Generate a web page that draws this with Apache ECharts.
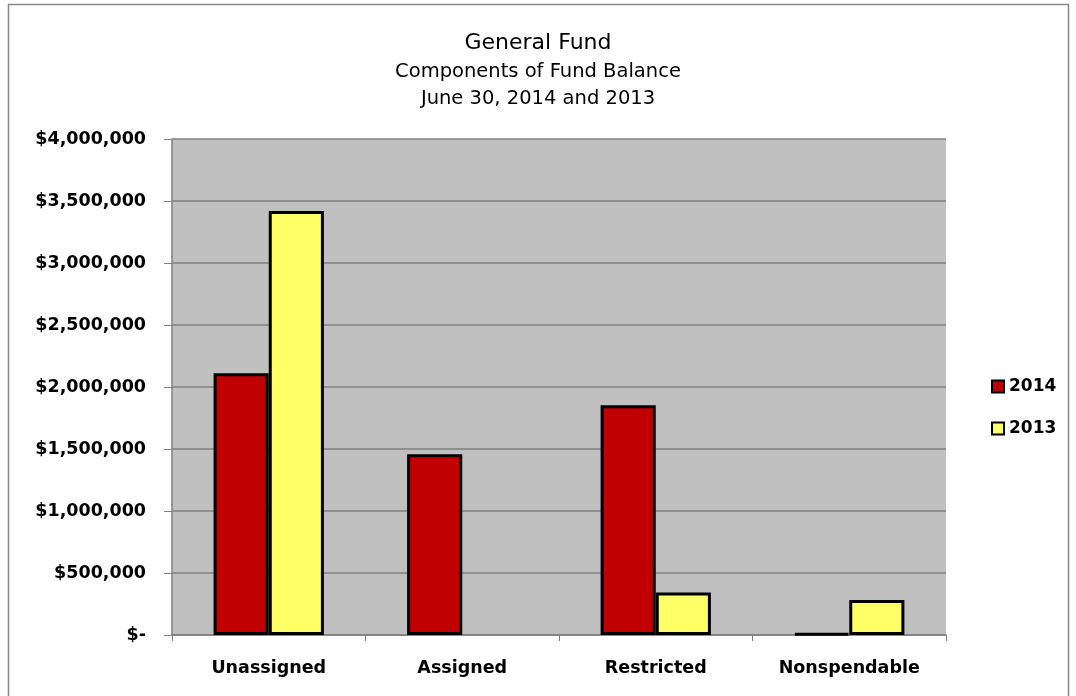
<!DOCTYPE html>
<html><head><meta charset="utf-8">
<script src="https://cdn.jsdelivr.net/npm/echarts@6/dist/echarts.min.js"></script>
<style>html,body{margin:0;padding:0;background:#fff}#c{width:1076px;height:696px}</style>
</head><body><div id="c"></div>
<script>
const categories = ['Unassigned', 'Assigned', 'Restricted', 'Nonspendable'];
const values2014 = [2110000, 1458000, 1852000, 12000];
const values2013 = [3419000, null, 343000, 282000];
const seriesNames = ['2014', '2013'];
const titleLines = ['General Fund', 'Components of Fund Balance', 'June 30, 2014 and 2013'];

const font = '"DejaVu Sans", sans-serif';
const chart = echarts.init(document.getElementById('c'));
function fmt(v){ return v === 0 ? '$-' : '$' + v.toLocaleString('en-US'); }
chart.setOption({
  animation: false,
  graphic: [{type:'rect', shape:{x:8.5,y:4.5,width:1060,height:700}, style:{fill:'none', stroke:'#888', lineWidth:1.5}, silent:true}],
  title: [
    {text: titleLines[0], left:'center', top:27, textStyle:{fontFamily:font, fontSize:22, fontWeight:'normal', color:'#000'}},
    {text: titleLines[1], left:'center', top:57, textStyle:{fontFamily:font, fontSize:19.5, fontWeight:'normal', color:'#000'}},
    {text: titleLines[2], left:'center', top:84, textStyle:{fontFamily:font, fontSize:19.5, fontWeight:'normal', color:'#000'}}
  ],
  legend: {
    orient:'vertical', left:986, top:373, itemGap:25, itemWidth:12, itemHeight:12,
    icon:'rect',
    itemStyle:{borderColor:'#000', borderWidth:2},
    textStyle:{fontFamily:font, fontSize:17, fontWeight:'bold', color:'#000'},
    data: seriesNames
  },
  grid: {left:172, top:139, width:774, height:496, containLabel:false, backgroundColor:'#c0c0c0', show:true, borderWidth:0},
  xAxis: {
    type:'category', data:categories,
    axisLine:{lineStyle:{color:'#808080', width:1.5}},
    axisTick:{show:true, length:6, lineStyle:{color:'#808080'}},
    axisLabel:{fontFamily:font, fontSize:17.5, fontWeight:'bold', color:'#000', margin:24}
  },
  yAxis: {
    type:'value', min:0, max:4000000, interval:500000,
    axisLine:{show:true, lineStyle:{color:'#808080', width:1.5}},
    axisTick:{show:true, length:8, lineStyle:{color:'#808080'}},
    splitLine:{lineStyle:{color:'#808080', width:1.5}},
    axisLabel:{fontFamily:font, fontSize:17.5, fontWeight:'bold', color:'#000', margin:26, formatter:fmt}
  },
  series: [
    {name:seriesNames[0], type:'bar', data:values2014, barGap:'0%', barCategoryGap:'43%',
     itemStyle:{color:'#c00000', borderColor:'#000', borderWidth:3}},
    {name:seriesNames[1], type:'bar', data:values2013,
     itemStyle:{color:'#ffff66', borderColor:'#000', borderWidth:3}}
  ]
});
</script></body></html>
